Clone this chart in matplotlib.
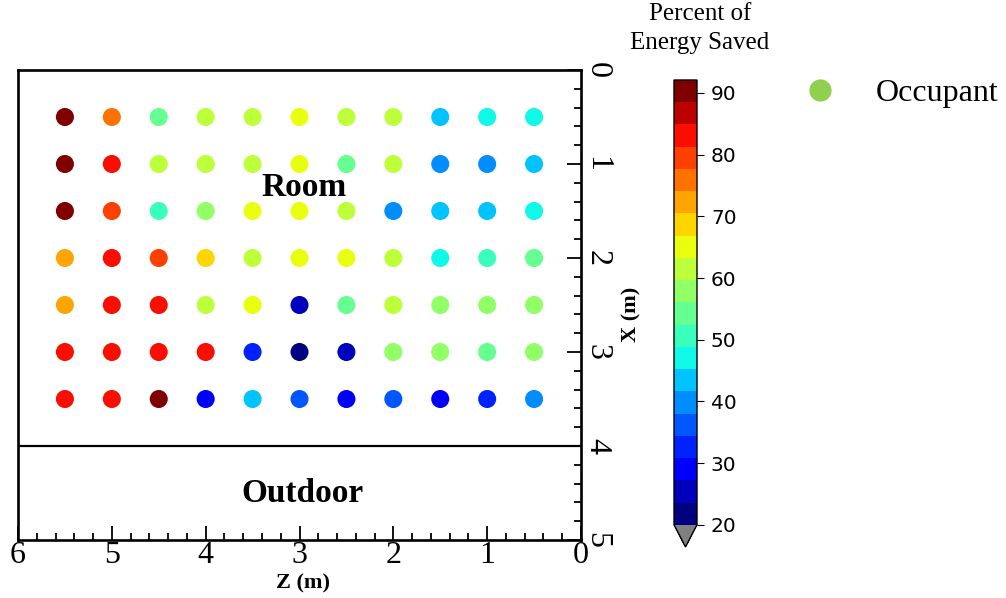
import numpy as np
import matplotlib; matplotlib.use("Agg"); import matplotlib.pyplot as plt
from matplotlib.colors import Normalize
from matplotlib.lines import Line2D
from matplotlib.ticker import MultipleLocator

# sensor grid: columns along Z (left to right on the plot), rows along X (top to bottom)
z_pos = [5.5, 5.0, 4.5, 4.0, 3.5, 3.0, 2.5, 2.0, 1.5, 1.0, 0.5]
x_pos = [0.5, 1.0, 1.5, 2.0, 2.5, 3.0, 3.5]
# percent of energy saved, one list per X row, same order as z_pos
row_05 = [91, 76, 54, 62, 61, 65, 62, 61, 43, 47, 47]
row_10 = [90, 83, 61, 62, 62, 65, 54, 61, 40, 39, 43]
row_15 = [91, 80, 51, 58, 65, 65, 62, 40, 43, 44, 47]
row_20 = [72, 83, 80, 69, 62, 65, 65, 62, 47, 51, 54]
row_25 = [72, 83, 83, 62, 65, 25, 54, 61, 58, 58, 58]
row_30 = [83, 83, 83, 82, 33, 22, 25, 58, 58, 54, 58]
row_35 = [83, 83, 91, 29, 43, 36, 29, 36, 29, 33, 40]
saved = np.array([row_05, row_10, row_15, row_20, row_25, row_30, row_35], dtype=float)

VMIN, VMAX, NLEV = 20, 92.1, 20
CBAR_TICKS = [20, 30, 40, 50, 60, 70, 80, 90]
WALL_X = 4.0

SERIF = "Liberation Serif"
cmap = plt.get_cmap("jet", NLEV).copy()
cmap.set_under("#808080")
norm = Normalize(VMIN, VMAX)

fig = plt.figure(figsize=(10.06, 5.98), dpi=100)
ax = fig.add_axes([18/1006, 58/598, 563/1006, 470/598])

zz, xx = np.meshgrid(z_pos, x_pos)
sc = ax.scatter(zz.ravel(), xx.ravel(), c=saved.ravel(), cmap=cmap, norm=norm,
                s=13**2, marker="o", linewidths=0, zorder=3)
ax.axhline(WALL_X, color="black", lw=1.6)

ax.set_xlim(6, 0); ax.set_ylim(5, 0)
ax.xaxis.set_major_locator(MultipleLocator(1)); ax.xaxis.set_minor_locator(MultipleLocator(0.2))
ax.yaxis.set_major_locator(MultipleLocator(1)); ax.yaxis.set_minor_locator(MultipleLocator(0.2))
ax.yaxis.tick_right()
ax.tick_params(which="both", direction="in", top=False, left=False, width=1.3)
ax.tick_params(which="major", length=10, pad=1, labelsize=23)
ax.tick_params(which="minor", length=5)
for lab in ax.get_xticklabels() + ax.get_yticklabels():
    lab.set_family(SERIF)
for lab in ax.get_yticklabels():
    lab.set_rotation(-90); lab.set_va("center")
for s in ax.spines.values():
    s.set_linewidth(1.9)

ax.set_xlabel("Z (m)", family=SERIF, fontweight="bold", fontsize=16)
ax.xaxis.set_label_coords(0.506, -0.072)
ax.yaxis.set_label_position("right")
ax.set_ylabel("X (m)", family=SERIF, fontweight="bold", fontsize=16, rotation=90)
ax.yaxis.set_label_coords(1.072, 0.479)

ax.text(2.95, 1.25, "Room", family=SERIF, fontweight="bold", fontsize=24, ha="center", va="center")
ax.text(2.97, 4.5, "Outdoor", family=SERIF, fontweight="bold", fontsize=24, ha="center", va="center")

cax = fig.add_axes([674/1006, 51/598, 23/1006, 467/598])
cb = fig.colorbar(sc, cax=cax, extend="min", ticks=CBAR_TICKS)
cb.outline.set_linewidth(1.0)
cb.ax.tick_params(labelsize=14.5, length=5, pad=5)
fig.text(700/1006, 1 - 3/598, "Percent of\nEnergy Saved", family=SERIF, fontsize=18,
         ha="center", va="top", linespacing=1.4)

occ = Line2D([], [], marker="o", ls="", color="#8fd14f", markersize=16, markeredgewidth=0)
fig.legend([occ], ["Occupant"], loc="center left", bbox_to_anchor=(772/1006, 1 - 93/598),
           frameon=False, borderpad=0, handlelength=2, handletextpad=0.75,
           prop={"family": SERIF, "size": 23})

fig.savefig("out.png", dpi=100)
